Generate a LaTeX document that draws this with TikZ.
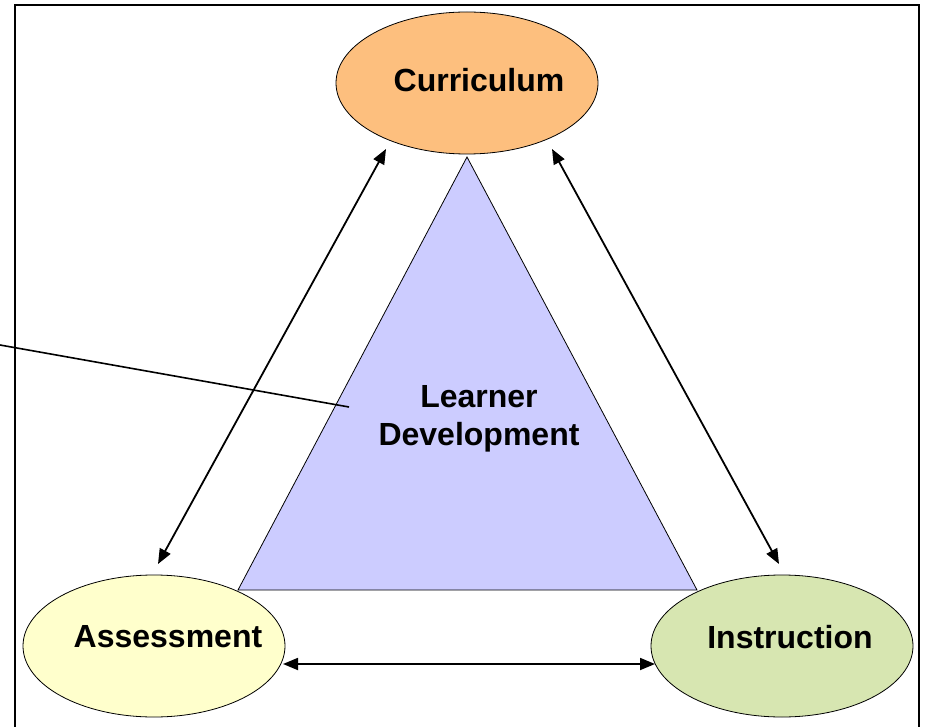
\documentclass[tikz,border=0pt]{standalone}
\usepackage{fontspec}
\setmainfont{Liberation Sans}
\usetikzlibrary{shapes.geometric,arrows.meta}
\definecolor{curorange}{HTML}{FDBF7E}
\definecolor{assyellow}{HTML}{FFFFCC}
\definecolor{insgreen}{HTML}{D7E6B1}
\definecolor{learnblue}{HTML}{CCCCFF}
\tikzset{
  topic/.style={ellipse,draw=black,line width=0.8pt,minimum width=262pt,minimum height=142pt,inner sep=0pt},
  topictext/.style={font=\bfseries\fontsize{32}{38}\selectfont},
  link/.style={{Triangle[length=15pt,width=12pt]}-{Triangle[length=15pt,width=12pt]},line width=1.8pt}
}
\begin{document}
\begin{tikzpicture}[x=1pt,y=-1pt]
\useasboundingbox (0,0) rectangle (926,727);

%%%%%
%% frame
%%%%%
\draw[line width=2pt] (15,5) rectangle (919,745);

%%%%%
%% centre triangle
%%%%%
\coordinate (T1) at (467,157);
\coordinate (T2) at (238,590);
\coordinate (T3) at (697,590);
\draw[fill=learnblue, line width=0.8pt] (T1) -- (T2) -- (T3) -- cycle;

% pointer line
\coordinate (P1) at (0,345);
\coordinate (P2) at (349,407);
\draw[line width=1.6pt] (P1) -- (P2);

\node[topictext, align=center] (learner) at (479,419) {Learner\\Development};

%%%%%
%% three topics
%%%%%
\node[topic, fill=curorange, label={[topictext, xshift=12pt, yshift=3pt]center:Curriculum}] (cur) at (467,83) {};
\node[topic, fill=assyellow, label={[topictext, xshift=14pt, yshift=9pt]center:Assessment}] (ass) at (154,646) {};
\node[topic, fill=insgreen, label={[topictext, xshift=8pt, yshift=9pt]center:Instruction}] (ins) at (782,646) {};

%%%%%
%% links
%%%%%
\coordinate (cur-l) at (386,149);
\coordinate (cur-r) at (552,149);
\coordinate (ass-t) at (158,564);
\coordinate (ass-r) at (283,664);
\coordinate (ins-t) at (779,564);
\coordinate (ins-l) at (655,664);

\draw[link] (ass-t) -- (cur-l);
\draw[link] (cur-r) -- (ins-t);
\draw[link] (ass-r) -- (ins-l);

\end{tikzpicture}
\end{document}
